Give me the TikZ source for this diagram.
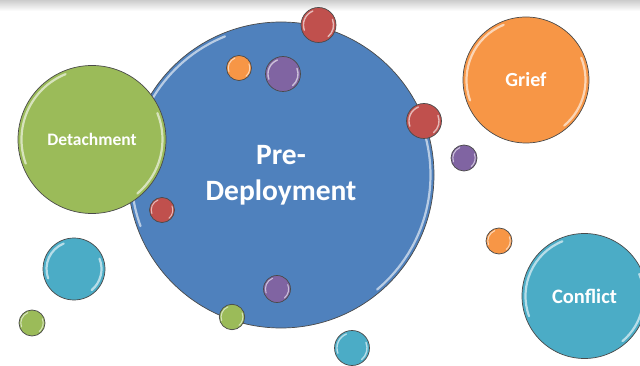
\documentclass[tikz,border=0pt]{standalone}
\usepackage{fontspec}
\setmainfont{Carlito}
\usetikzlibrary{calc}
\definecolor{cblue}{HTML}{4F81BD}
\definecolor{cgreen}{HTML}{9BBB59}
\definecolor{corange}{HTML}{F79646}
\definecolor{ccyan}{HTML}{4BACC6}
\definecolor{cred}{HTML}{C0504D}
\definecolor{cpurple}{HTML}{8064A2}
\definecolor{edgecol}{HTML}{4A4A4A}
\tikzset{
  bubble/.style 2 args={circle, draw=edgecol, line width=0.7pt, fill=#1,
    minimum size=2*#2 pt, inner sep=0pt, text=white, font=\bfseries,
    path picture={
      \draw[white, opacity=0.6, line width={min(2.2,max(0.8,0.08*#2))*1pt}, line cap=round]
        let \p1=(path picture bounding box.center),
            \n1={(#2-min(3.5,0.14*#2))*1pt} in
        ($(\p1)+(112:\n1)$) arc[start angle=112, end angle=200, radius=\n1]
        ($(\p1)+(-50:\n1)$) arc[start angle=-50, end angle=22, radius=\n1];
    }},
}
\begin{document}
\begin{tikzpicture}[x=1pt,y=-1pt]
\useasboundingbox (0,0) rectangle (640,366);
\fill[white] (0,0) rectangle (640,366);
\shade[top color=black!20, bottom color=white] (0,0) rectangle (640,11);
% big circles
\node[bubble={cblue}{153}, font=\bfseries\fontsize{29.5}{36}\selectfont, align=center] (pre) at (281,175) {Pre-\\Deployment};
\node[bubble={cgreen}{74}, font=\bfseries\fontsize{17.5}{20}\selectfont] (det) at (92,139.5) {Detachment};
\node[bubble={corange}{63}, font=\bfseries\fontsize{20}{24}\selectfont] (grief) at (526,80) {Grief};
\node[bubble={ccyan}{62.5}, font=\bfseries\fontsize{20.5}{24}\selectfont] (conf) at (584.5,296) {Conflict};
% small spheres
\node[bubble={cred}{17.5}] (r1) at (318.5,25) {};
\node[bubble={corange}{12.5}] (o1) at (239,68) {};
\node[bubble={cpurple}{17.5}] (p1) at (283,74) {};
\node[bubble={cred}{17.5}] (r2) at (424,121) {};
\node[bubble={cpurple}{13}] (p2) at (464,158) {};
\node[bubble={cred}{12.5}] (r3) at (162,210) {};
\node[bubble={corange}{13}] (o2) at (499,241) {};
\node[bubble={ccyan}{31}] (c1) at (74,269) {};
\node[bubble={cgreen}{13}] (g1) at (32,323) {};
\node[bubble={cpurple}{13.5}] (p3) at (277,289) {};
\node[bubble={cgreen}{12.7}] (g2) at (232,317) {};
\node[bubble={ccyan}{17.5}] (c2) at (352,348) {};
\end{tikzpicture}
\end{document}
